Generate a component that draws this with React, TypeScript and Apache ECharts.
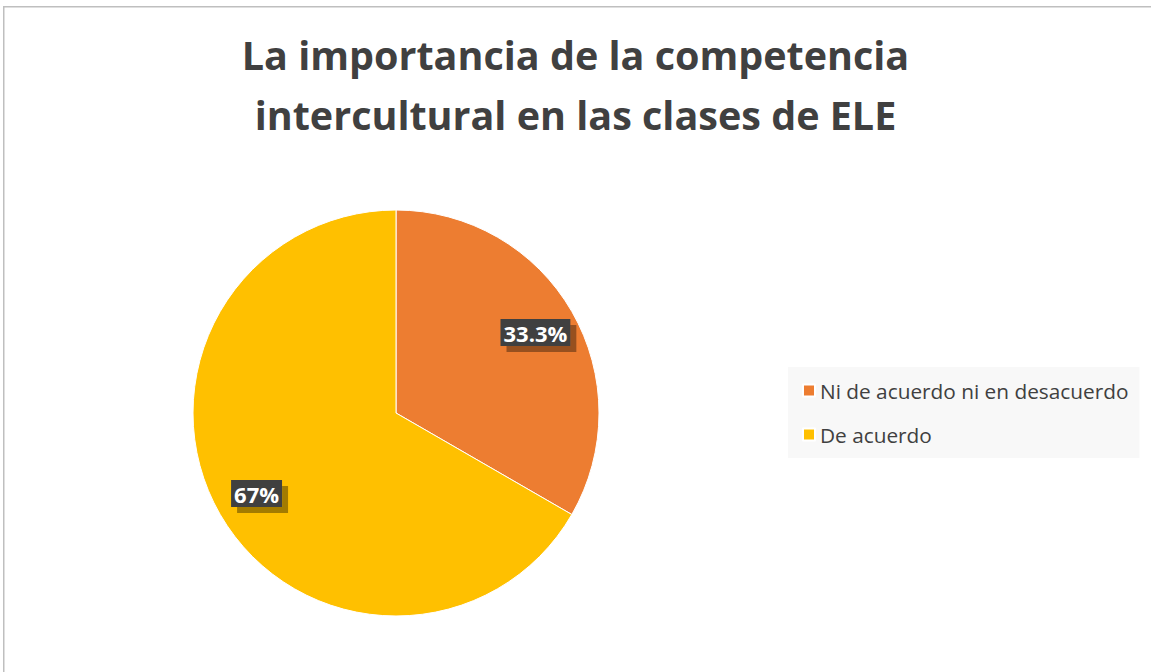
import React, { useEffect, useRef } from "react";
import * as echarts from "echarts";

const titleLines = ["La importancia de la competencia", "intercultural en las clases de ELE"];
const categories = ["Ni de acuerdo ni en desacuerdo", "De acuerdo"];
const values = [1, 2];
const labelTexts = ["33.3%", "67%"];
const colors = ["#ED7D31", "#FFC000"];

export default function App() {
  const ref = useRef<HTMLDivElement>(null);
  useEffect(() => {
    if (!ref.current) return;
    const chart = echarts.init(ref.current, null, { renderer: "svg" });
    const font = "Open Sans, Lato, sans-serif";
    chart.setOption({
      animation: false,
      backgroundColor: "#ffffff",
      title: {
        text: titleLines.join("\n"),
        left: "center",
        top: 20,
        textStyle: {
          fontFamily: font,
          fontSize: 39.5,
          fontWeight: "bold",
          color: "#404040",
          lineHeight: 60,
        },
      },
      legend: {
        orient: "vertical",
        left: 788,
        top: 367,
        backgroundColor: "#f8f8f8",
        padding: [13, 11, 13, 14],
        itemWidth: 12,
        itemHeight: 12,
        itemGap: 23,
        icon: "rect",
        data: categories,
        textStyle: { fontFamily: font, fontSize: 20.8, color: "#404040", padding: [0, 0, 0, 0] },
      },
      graphic: [
        {
          type: "rect",
          shape: { x: 3.75, y: 6.75, width: 1200, height: 800 },
          style: { fill: "none", stroke: "#bfbfbf", lineWidth: 1.5 },
          silent: true,
        },
      ],
      series: [
        {
          type: "pie",
          center: [396, 413],
          radius: 203,
          startAngle: 90,
          clockwise: true,
          label: { show: false },
          labelLine: { show: false },
          itemStyle: { borderColor: "#ffffff", borderWidth: 1 },
          data: categories.map((c, i) => ({ name: c, value: values[i], itemStyle: { color: colors[i] } })),
        },
        {
          type: "pie",
          center: [396, 413],
          radius: [113, 203],
          startAngle: 90,
          clockwise: true,
          silent: true,
          legendHoverLink: false,
          itemStyle: { color: "rgba(0,0,0,0)" },
          label: {
            show: true,
            position: "inside",
            formatter: (p: any) => labelTexts[p.dataIndex],
            fontFamily: font,
            fontSize: 22,
            fontWeight: "bold",
            color: "#ffffff",
            backgroundColor: "#404040",
            padding: [3, 3, 2, 3],
            shadowColor: "rgba(0,0,0,0.36)",
            shadowOffsetX: 6,
            shadowOffsetY: 6,
            shadowBlur: 0,
          },
          labelLine: { show: false },
          data: categories.map((c, i) => ({ name: c + " ", value: values[i] })),
        },
      ],
    });
    return () => chart.dispose();
  }, []);
  return (
    <div
      ref={ref}
      style={{ position: "fixed", left: 0, top: 0, width: 1151, height: 672 }}
    />
  );
}
